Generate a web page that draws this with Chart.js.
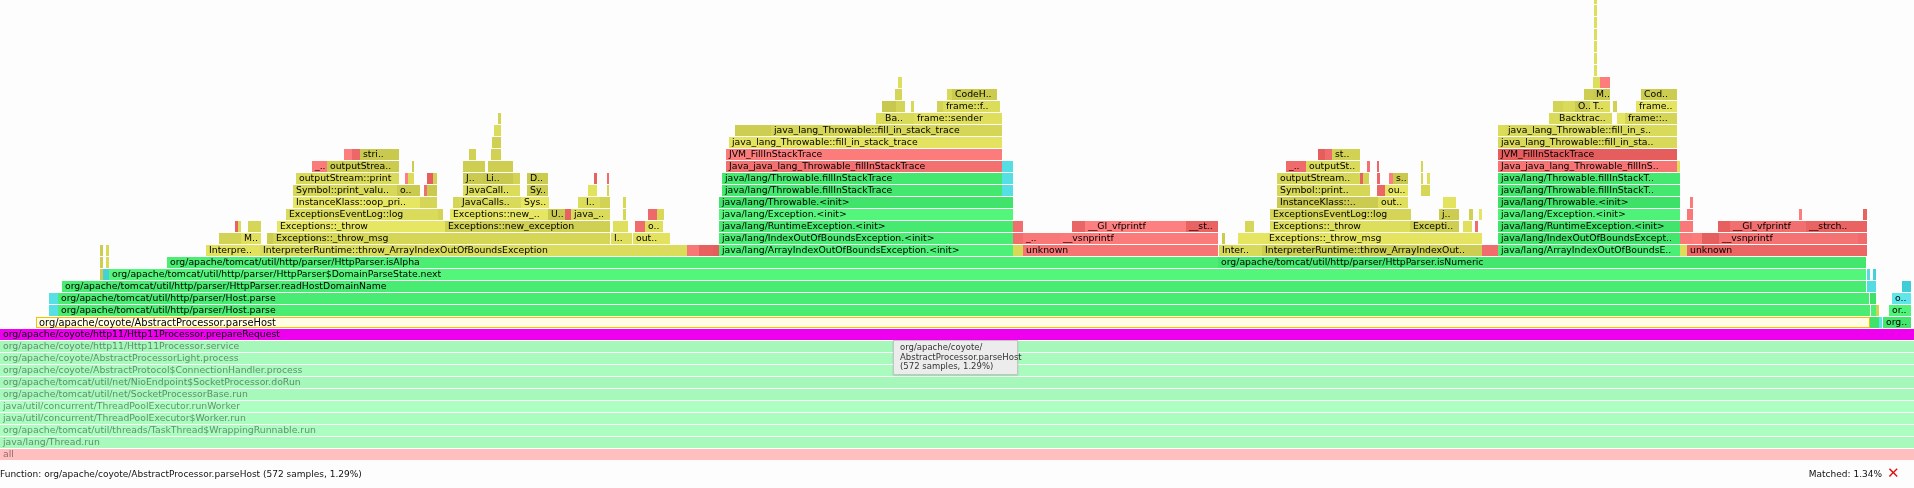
<!DOCTYPE html>
<html>
<head>
<meta charset="utf-8">
<script src="https://cdn.jsdelivr.net/npm/chart.js@4.4.1/dist/chart.umd.min.js"></script>
<style>
html,body{margin:0;padding:0;background:#fdfdfd;width:1914px;height:488px;overflow:hidden;font-family:"DejaVu Sans",Verdana,sans-serif;}
#c{position:absolute;left:0;top:0;}
#status{position:absolute;left:0;top:468px;font-size:9px;line-height:12px;color:#111;white-space:nowrap;}
#match{position:absolute;right:32px;top:468px;font-size:9px;line-height:12px;color:#111;white-space:nowrap;}
#matchx{position:absolute;left:1887px;top:465px;font-size:15px;line-height:16px;color:#e01010;font-weight:bold;}
#tip{position:absolute;left:893px;top:340px;width:112px;padding:2px 5px 2px 6px;background:#ececec;border:1px solid #c4c4c4;box-shadow:0 1px 2px rgba(0,0,0,0.15);font-size:8.5px;line-height:9.5px;color:#333;white-space:nowrap;}
</style>
</head>
<body>
<canvas id="c" width="1914" height="488"></canvas>
<div id="tip">org/apache/coyote/<br>AbstractProcessor.parseHost<br>(572 samples, 1.29%)</div>
<div id="status">Function: org/apache/coyote/AbstractProcessor.parseHost (572 samples, 1.29%)</div>
<div id="match">Matched: 1.34%</div>
<div id="matchx">✕</div>
<script>
// ---- flame graph data (one entry per stack level, bottom = level 0) ----
// sample spans are in scaled sample units (prepareRequest = 0..1914)
const frameSpans = [
  [[0,1914]],
  [[0,1914]],
  [[0,1914]],
  [[0,1914]],
  [[0,1914]],
  [[0,1914]],
  [[0,1914]],
  [[0,1914]],
  [[0,1914]],
  [[0,1914]],
  [[0,1914]],
  [[36,1870],[1870,1879],[1879,1882],[1883,1911]],
  [[49,58],[58,1870],[1871,1876],[1876,1879],[1889,1911]],
  [[49,58],[58,1869],[1870,1876],[1892,1911]],
  [[62,1866],[1867,1876],[1902,1911]],
  [[100,103],[103,109],[109,1866],[1867,1870],[1873,1876]],
  [[100,103],[106,109],[167,1218],[1218,1866]],
  [[100,103],[106,109],[206,260],[260,675],[675,687],[687,699],[699,713],[713,719],[719,1013],[1013,1023],[1023,1218],[1219,1262],[1262,1482],[1482,1498],[1498,1680],[1680,1687],[1687,1867]],
  [[219,241],[241,261],[267,273],[273,610],[611,632],[633,670],[719,1013],[1013,1023],[1023,1060],[1060,1218],[1222,1225],[1238,1266],[1266,1482],[1498,1680],[1680,1692],[1692,1702],[1702,1719],[1719,1858],[1858,1867]],
  [[235,238],[238,241],[248,261],[277,445],[445,610],[613,628],[635,645],[645,663],[719,1013],[1013,1023],[1072,1085],[1085,1186],[1186,1218],[1245,1254],[1270,1410],[1410,1459],[1463,1472],[1475,1478],[1498,1680],[1680,1693],[1718,1730],[1730,1806],[1806,1857],[1857,1867]],
  [[286,438],[438,443],[450,548],[548,565],[565,571],[571,610],[623,626],[648,657],[657,664],[719,1013],[1270,1411],[1439,1459],[1469,1473],[1479,1482],[1498,1680],[1687,1693],[1799,1802],[1863,1867]],
  [[293,420],[420,437],[453,459],[459,521],[521,549],[578,583],[583,600],[600,610],[623,626],[719,1013],[1277,1378],[1378,1408],[1443,1456],[1498,1680],[1690,1693]],
  [[293,397],[397,420],[424,427],[427,437],[463,520],[527,548],[588,597],[607,609],[722,1002],[1002,1013],[1277,1370],[1377,1385],[1385,1408],[1421,1430],[1498,1680]],
  [[296,399],[405,408],[408,414],[427,433],[433,437],[463,483],[483,513],[513,520],[527,548],[594,597],[607,609],[722,1002],[1002,1013],[1277,1360],[1360,1363],[1363,1369],[1377,1380],[1389,1393],[1393,1408],[1421,1423],[1427,1430],[1498,1680]],
  [[312,327],[327,399],[412,414],[463,485],[488,513],[726,1002],[1002,1013],[1286,1306],[1306,1360],[1367,1370],[1377,1379],[1421,1423],[1498,1677],[1677,1680]],
  [[344,352],[352,360],[360,399],[469,476],[491,501],[726,1002],[1318,1325],[1325,1332],[1332,1360],[1498,1677]],
  [[492,501],[729,1002],[1498,1677]],
  [[494,501],[735,771],[771,1002],[1498,1505],[1505,1677]],
  [[498,501],[876,882],[882,908],[908,914],[914,1002],[1549,1556],[1556,1612],[1617,1625],[1625,1677]],
  [[882,896],[896,905],[911,914],[937,943],[943,1000],[1553,1563],[1563,1575],[1575,1590],[1590,1610],[1613,1617],[1636,1677]],
  [[895,902],[947,952],[952,997],[1584,1593],[1593,1610],[1641,1677]],
  [[898,902],[1593,1600],[1600,1610]],
  [[1594,1597]],
  [[1594,1597]],
  [[1594,1597]],
  [[1594,1597]],
  [[1594,1597]],
  [[1594,1597]],
  [[1594,1597]]
];
// frame kinds per level: J = java, I = inlined, C = C++, N = native
const frameKinds = [
  'N','J','J','J','J','J','J','J','J','J','J',
  'JJIJ',
  'IJJCJ',
  'IJJI',
  'JII',
  'CIJII',
  'CCJJ',
  'CCCCCNNNJCNCCNJCN',
  'CCCCCCJNNNCCCJNNNNN',
  'NCCCCCNCJNNNNCCCCNJNNNNN',
  'CCCCNCCNCJCCCCJNNN',
  'CCCCCCCCCJCCCJN',
  'CCNCCCCCJICNCCJ',
  'CNCNCCCCCNNJICNCNNCCCJ',
  'NCCCCNINCNNCNC',
  'NNCCCNNNCN',
  'CCC',
  'CCCCC',
  'CCCCCCCCC',
  'CCCCCCCCCCC',
  'CCCCCC',
  'CCN',
  'C','C','C','C','C','C','C'
];
const frameNames = [
  ['all'],
  ['java/lang/Thread.run'],
  ['org/apache/tomcat/util/threads/TaskThread$WrappingRunnable.run'],
  ['java/util/concurrent/ThreadPoolExecutor$Worker.run'],
  ['java/util/concurrent/ThreadPoolExecutor.runWorker'],
  ['org/apache/tomcat/util/net/SocketProcessorBase.run'],
  ['org/apache/tomcat/util/net/NioEndpoint$SocketProcessor.doRun'],
  ['org/apache/coyote/AbstractProtocol$ConnectionHandler.process'],
  ['org/apache/coyote/AbstractProcessorLight.process'],
  ['org/apache/coyote/http11/Http11Processor.service'],
  ['org/apache/coyote/http11/Http11Processor.prepareRequest'],
  ['org/apache/coyote/AbstractProcessor.parseHost','','','org..'],
  ['','org/apache/tomcat/util/http/parser/Host.parse','','','or..'],
  ['','org/apache/tomcat/util/http/parser/Host.parse','','o..'],
  ['org/apache/tomcat/util/http/parser/HttpParser.readHostDomainName','',''],
  ['','','org/apache/tomcat/util/http/parser/HttpParser$DomainParseState.next','',''],
  ['','','org/apache/tomcat/util/http/parser/HttpParser.isAlpha','org/apache/tomcat/util/http/parser/HttpParser.isNumeric'],
  ['','','Interpre..','InterpreterRuntime::throw_ArrayIndexOutOfBoundsException','','','','','java/lang/ArrayIndexOutOfBoundsException.<init>','','unknown','Inter..','InterpreterRuntime::throw_ArrayIndexOut..','','java/lang/ArrayIndexOutOfBoundsE..','','unknown'],
  ['','M..','','Exceptions::_throw_msg','I..','out..','java/lang/IndexOutOfBoundsException.<init>','','_..','__vsnprintf','','','Exceptions::_throw_msg','java/lang/IndexOutOfBoundsExcept..','','','','__vsnprintf',''],
  ['','','','Exceptions::_throw','Exceptions::new_exception','','','o..','java/lang/RuntimeException.<init>','','','__GI_vfprintf','__st..','','Exceptions::_throw','Excepti..','','','java/lang/RuntimeException.<init>','','','__GI_vfprintf','__strch..',''],
  ['ExceptionsEventLog::log','','Exceptions::new_..','U..','','java_..','','','','java/lang/Exception.<init>','ExceptionsEventLog::log','j..','','','java/lang/Exception.<init>','','',''],
  ['InstanceKlass::oop_pri..','','','JavaCalls..','Sys..','','I..','','','java/lang/Throwable.<init>','InstanceKlass::..','out..','','java/lang/Throwable.<init>',''],
  ['Symbol::print_valu..','o..','','','JavaCall..','Sy..','','','java/lang/Throwable.fillInStackTrace','','Symbol::print..','','ou..','','java/lang/Throwable.fillInStackT..'],
  ['outputStream::print','','','','','J..','Li..','','D..','','','java/lang/Throwable.fillInStackTrace','','outputStream..','','','','','s..','','','java/lang/Throwable.fillInStackT..'],
  ['_..','outputStrea..','','','','Java_java_lang_Throwable_fillInStackTrace','','_..','outputSt..','','','','Java_java_lang_Throwable_fillInS..',''],
  ['','','stri..','','','JVM_FillInStackTrace','','','st..','JVM_FillInStackTrace'],
  ['','java_lang_Throwable::fill_in_stack_trace','java_lang_Throwable::fill_in_sta..'],
  ['','','java_lang_Throwable::fill_in_stack_trace','','java_lang_Throwable::fill_in_s..'],
  ['','','Ba..','','frame::sender','','Backtrac..','','frame::..'],
  ['','','','','frame::f..','','','O..','T..','','frame..'],
  ['','','CodeH..','','M..','Cod..'],
  ['','',''],
  [''],[''],[''],[''],[''],[''],['']
];
const rootLevel = 10;                       // zoomed-in frame level
const searchTerm = 'prepareRequest';        // highlighted search
const hoveredFrame = 'org/apache/coyote/AbstractProcessor.parseHost';

// ---- build chart points ----
const points = [], names = [], kinds = [], levels = [];
frameSpans.forEach((row, lvl) => {
  row.forEach((span, j) => {
    points.push({x: [span[0], span[1]], y: lvl});
    names.push(frameNames[lvl][j] || '');
    kinds.push(frameKinds[lvl][j]);
    levels.push(lvl);
  });
});

const palette = {
  J: [[60,224,102],[84,246,124]],
  I: [[64,204,214],[96,232,236]],
  C: [[200,200,78],[230,230,98]],
  N: [[228,92,92],[255,128,128]]
};
function hash(s){let h=2166136261;for(let k=0;k<s.length;k++){h^=s.charCodeAt(k);h=Math.imul(h,16777619);}return (h>>>0)/4294967295;}
function rgb(a){return 'rgb('+a.map(v=>Math.round(v)).join(',')+')';}
const fills = [], borders = [], bw = [], textCol = [];
points.forEach((p, i) => {
  const pal = palette[kinds[i]];
  const v = hash(names[i] + ':' + p.x[0] + ':' + levels[i]);
  let c = pal[0].map((a, k) => a + (pal[1][k] - a) * v);
  let tc = '#000';
  if (levels[i] < rootLevel) { c = c.map(a => (a + 255) / 2 + 6); tc = 'rgba(0,0,0,0.45)'; }
  if (names[i].indexOf(searchTerm) >= 0) { c = [238,0,238]; }
  let bc = 'rgba(0,0,0,0)', w = 0;
  if (names[i] === hoveredFrame) { c = [255,253,228]; bc = '#f5c000'; w = 1; }
  fills.push(rgb(c.map(a => Math.min(255, a)))); borders.push(bc); bw.push(w); textCol.push(tc);
});

const labelPlugin = {
  id: 'frameLabels',
  afterDatasetsDraw(chart) {
    const meta = chart.getDatasetMeta(0);
    const c = chart.ctx;
    c.save();
    c.textBaseline = 'middle';
    c.textAlign = 'left';
    meta.data.forEach((el, i) => {
      const name = names[i];
      if (!name) return;
      const left = Math.min(el.x, el.base), right = Math.max(el.x, el.base);
      const h = el.height;
      c.save();
      c.beginPath();
      c.rect(left, el.y - h / 2, right - left, h);
      c.clip();
      c.font = (name === hoveredFrame ? '9.9px' : '9.3px') + ' "DejaVu Sans", Verdana, sans-serif';
      c.fillStyle = textCol[i];
      c.fillText(name, left + 3, el.y + 0.5);
      c.restore();
    });
    c.restore();
  }
};

new Chart(document.getElementById('c'), {
  type: 'bar',
  data: { datasets: [{
    data: points,
    backgroundColor: fills,
    borderColor: borders,
    borderWidth: bw,
    borderSkipped: false,
    barThickness: 11,
    inflateAmount: 0
  }]},
  options: {
    indexAxis: 'y',
    responsive: false,
    maintainAspectRatio: false,
    animation: false,
    events: [],
    layout: { padding: { left: 0, right: 0, top: 0, bottom: 27 } },
    scales: {
      x: { type: 'linear', min: 0, max: 1914, offset: false, display: false },
      y: { type: 'linear', min: -0.5417, max: 37.875, offset: false, display: false }
    },
    plugins: { legend: { display: false }, tooltip: { enabled: false } }
  },
  plugins: [labelPlugin]
});
</script>
</body>
</html>
